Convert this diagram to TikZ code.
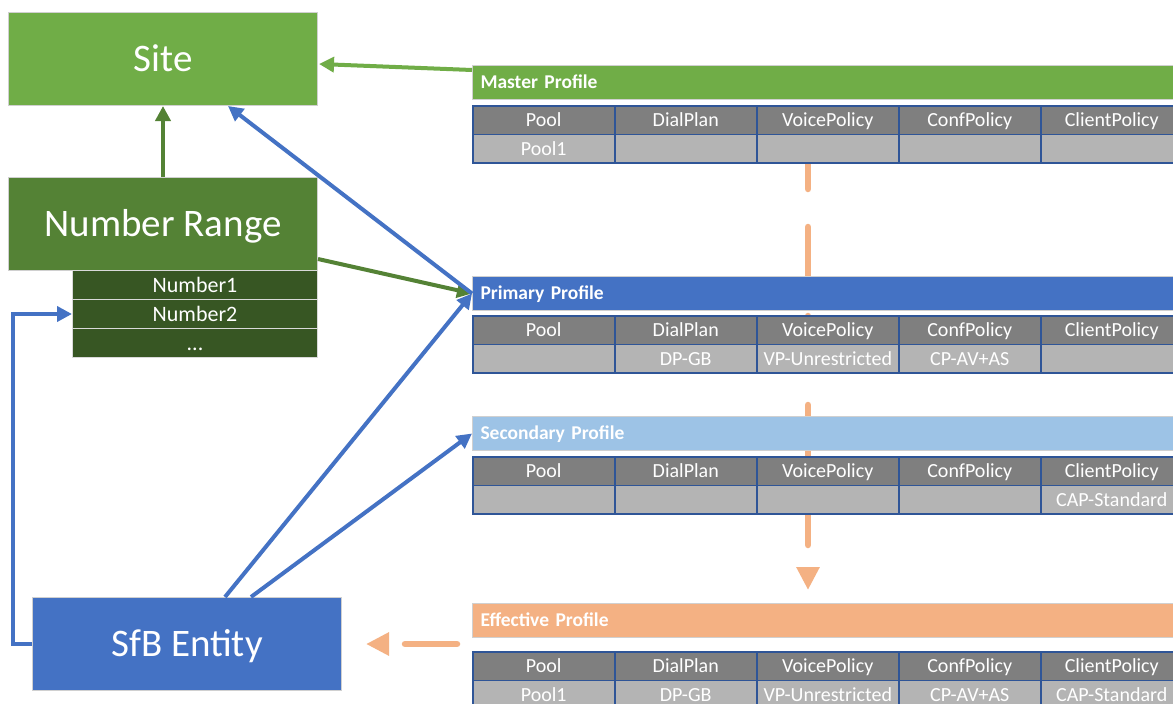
\documentclass[tikz,border=0pt]{standalone}
\usepackage{fontspec}
\setmainfont{Carlito}
\usetikzlibrary{arrows.meta,calc}
\pgfdeclarelayer{bg}
\pgfsetlayers{bg,main}
\definecolor{cgreen}{HTML}{70AD47}
\definecolor{cdgreen}{HTML}{548235}
\definecolor{cddgreen}{HTML}{375623}
\definecolor{cblue}{HTML}{4472C4}
\definecolor{clblue}{HTML}{9DC3E6}
\definecolor{corange}{HTML}{F4B183}
\definecolor{cgrayh}{HTML}{7F7F7F}
\definecolor{cgrayd}{HTML}{B4B4B4}
\definecolor{cborder}{HTML}{2F5597}
\definecolor{cline}{HTML}{D0D0D0}
\newcommand\ptable[7]{%
  \foreach \lab [count=\i] in {Pool,DialPlan,VoicePolicy,ConfPolicy,ClientPolicy}
    \node[hcell] (#1h\i) at ({472+142*(\i-1)},#2) {\lab};
  \foreach \lab [count=\i] in {{#3},{#4},{#5},{#6},{#7}}
    \node[dcell] (#1d\i) at ({472+142*(\i-1)},#2+28.5) {\lab};
}
\begin{document}
\begin{tikzpicture}[x=1pt,y=-1pt,
  bigbox/.style={draw=cline, line width=1pt, inner sep=0pt, anchor=north west,
    minimum width=309pt, minimum height=93pt, text=white,
    font=\fontsize{39}{40}\selectfont, text height=28pt, text depth=3pt},
  numrow/.style={fill=cddgreen, draw=cline!80, line width=1pt, minimum width=245pt,
    minimum height=29pt, inner sep=0pt, anchor=north west, text=white,
    font=\fontsize{22}{22}\selectfont, text height=16pt, text depth=2pt},
  hdr/.style={draw=cline, line width=1pt, anchor=north west, minimum height=34pt,
    text width=704pt, inner xsep=8pt, inner ysep=0pt, align=left, text=white,
    font=\bfseries\fontsize{19.5}{20}\selectfont, text height=14pt, text depth=2pt},
  cell/.style={draw=cborder, line width=1.5pt, anchor=north west, minimum width=142pt,
    minimum height=28.5pt, inner sep=0pt, text=white,
    font=\fontsize{20}{20}\selectfont, text height=15pt, text depth=2pt},
  hcell/.style={cell, fill=cgrayh},
  dcell/.style={cell, fill=cgrayd},
  link/.style={line width=4pt, -{Triangle[length=15pt,width=15pt]}},
  odash/.style={draw=corange, line width=6.5pt, line cap=round,
    -{Triangle[length=23pt,width=22pt]}}
]
\useasboundingbox (0,0) rectangle (1173,704);
\begin{pgfonlayer}{bg}
\fill[white] (0,0) rectangle (1173,704);
\end{pgfonlayer}
\clip (0,0) rectangle (1173,704);

% left boxes
\node[bigbox, fill=cgreen] (site) at (8,12) {Site};
\node[bigbox, fill=cdgreen] (nr) at (8,177) {Number Range};
\node[numrow] (n1) at (72,270) {Number1};
\node[numrow] (n2) at (72,299) {Number2};
\node[numrow] (n3) at (72,328) {...};
\node[bigbox, fill=cblue] (sfb) at (32,597) {SfB Entity};

% profile headers
\node[hdr, fill=cgreen] (mh) at (472,65) {Master Profile};
\node[hdr, fill=cblue] (ph) at (472,276) {Primary Profile};
\node[hdr, fill=clblue] (sh) at (472,416) {Secondary Profile};
\node[hdr, fill=corange] (eh) at (472,603) {Effective Profile};

% tables
\ptable{mt}{105}{Pool1}{}{}{}{}
\ptable{pt}{315}{}{DP-GB}{VP-Unrestricted}{CP-AV+AS}{}
\ptable{st}{456}{}{}{}{}{CAP-Standard}
\ptable{et}{651}{Pool1}{DP-GB}{VP-Unrestricted}{CP-AV+AS}{CAP-Standard}

% dashed orange connectors (behind)
\coordinate (vtop) at ($(mth3.south west)+(52,3)$);
\begin{pgfonlayer}{bg}
\draw[odash, dash pattern=on 51pt off 38pt, shorten >=13pt] (vtop) -- (vtop |- eh.north);
\draw[odash, dash pattern=on 52pt off 38pt, shorten <=15pt, shorten >=24pt] (eh.west |- sfb.east) -- (sfb.east);
\end{pgfonlayer}

% solid connectors
\draw[link, cgreen] ($(mh.north west)+(0,5)$) -- ($(site.east)+(1,5)$);
\draw[link, cdgreen] (nr.north) -- (site.south);
\draw[link, cdgreen] ($(nr.south east)+(0,-12)$) -- (ph.west);
\draw[link, cblue] (ph.west) -- ($(site.south)+(65,0)$);
\draw[link, cblue] ($(sfb.north)+(38,0)$) -- (ph.west);
\draw[link, cblue] ($(sfb.north)+(64,0)$) -- (sh.west);
\draw[link, cblue] (sfb.west) -- ++(-19,0) |- (n2.west);
\end{tikzpicture}
\end{document}
